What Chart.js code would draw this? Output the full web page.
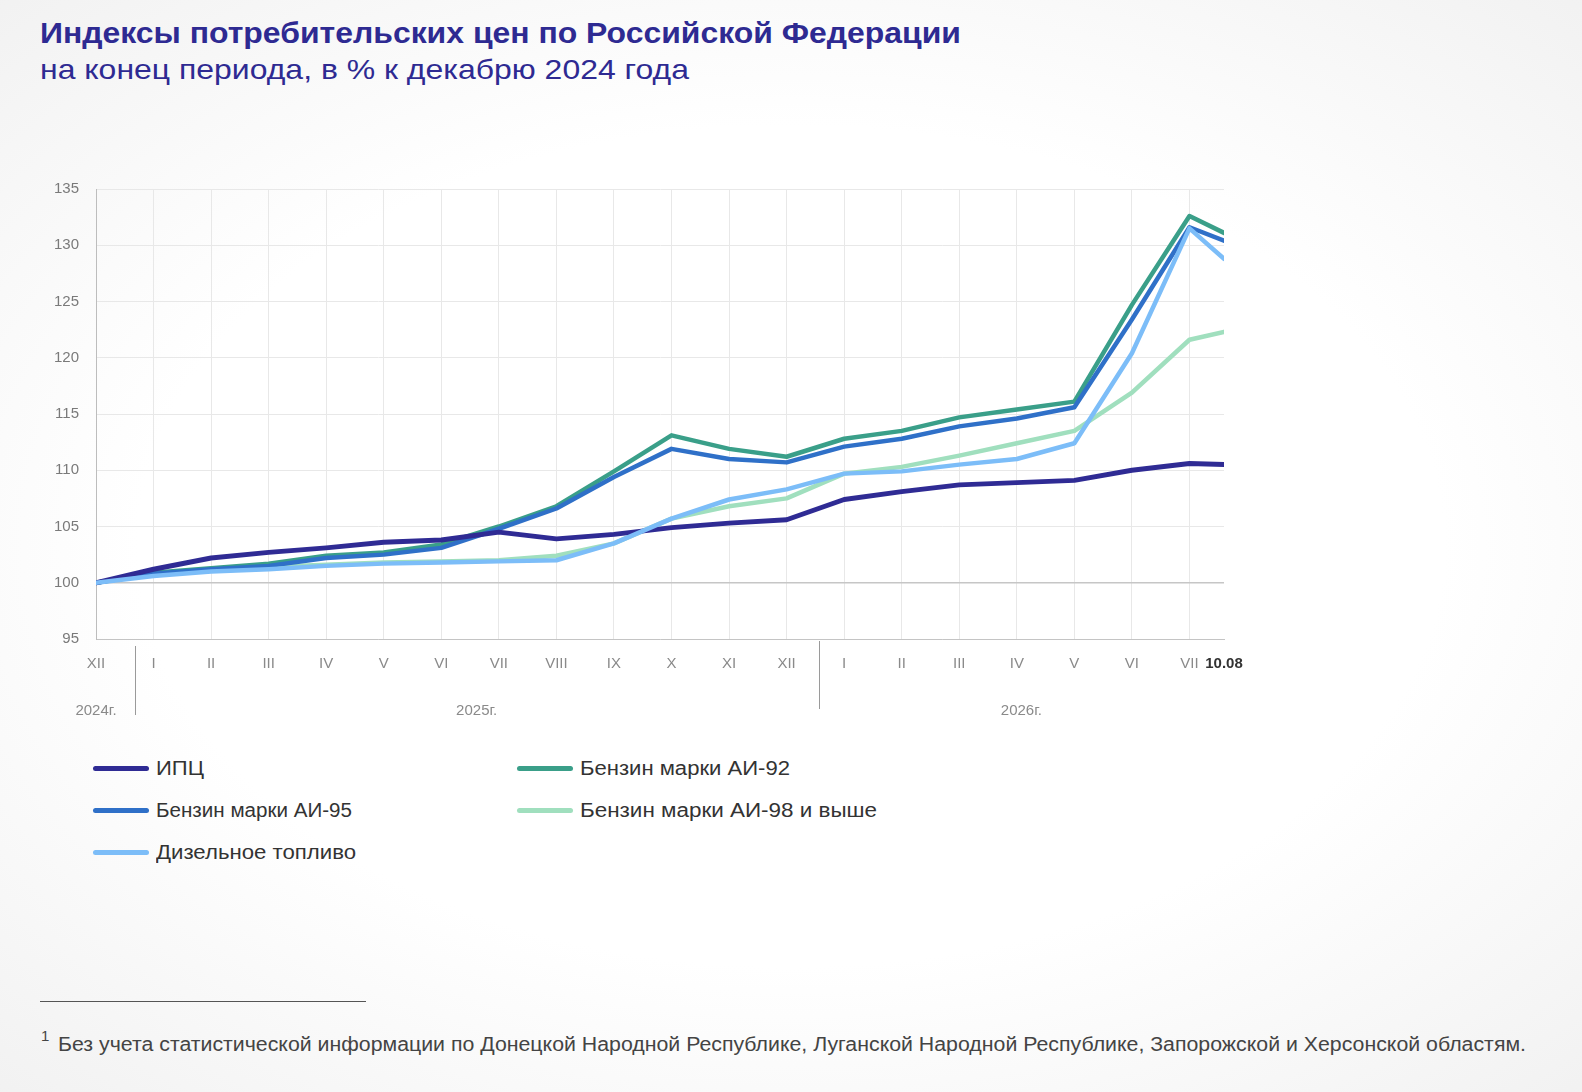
<!DOCTYPE html>
<html lang="ru">
<head>
<meta charset="utf-8">
<script src="https://cdn.jsdelivr.net/npm/chart.js@4.4.1/dist/chart.umd.min.js"></script>
<style>
  html, body { margin: 0; padding: 0; }
  body {
    width: 1582px; height: 1092px; position: relative; overflow: hidden;
    font-family: "Liberation Sans", Arial, sans-serif;
    background: radial-gradient(ellipse 75% 70% at 50% 50%, #ffffff 55%, #f1f1f1 100%);
  }
  .fit { position: absolute; white-space: nowrap; transform-origin: 0 50%; }
  #title { left: 40px; top: 16px; font-size: 30px; font-weight: bold; color: #2e2a92; }
  #subtitle { left: 40px; top: 54px; font-size: 28px; color: #2e2a92; }
  #wrap { position: absolute; left: 40px; top: 163px; width: 1231px; height: 574px; }
  #legend { position: absolute; left: 93px; top: 753px; width: 900px; }
  .item { position: absolute; height: 30px; display: flex; align-items: center; }
  .swatch { width: 56px; height: 5px; border-radius: 3px; margin-right: 7px; }
  .item span { font-size: 20px; color: #333; white-space: nowrap; display: inline-block; transform-origin: 0 50%; }
  #rule { position: absolute; left: 40px; top: 1001px; width: 326px; height: 1px; background: #555; }
  #note { position: absolute; left: 41px; top: 1033px; color: #444; white-space: nowrap; }
  #note sup { font-size: 15px; vertical-align: 0; position: relative; top: -10px; }
  #note span { font-size: 20px; display: inline-block; transform-origin: 0 50%; margin-left: 9px; }
</style>
</head>
<body>
<div id="title" class="fit" data-w="921">Индексы потребительских цен по Российской Федерации</div>
<div id="subtitle" class="fit" data-w="649">на конец периода, в % к декабрю 2024 года</div>
<div id="wrap"><canvas id="chart" width="1231" height="574"></canvas></div>
<div id="legend"></div>
<div id="rule"></div>
<div id="note"><sup>1</sup><span data-w="1468">Без учета статистической информации по Донецкой Народной Республике, Луганской Народной Республике, Запорожской и Херсонской областям.</span></div>
<script>
// x-axis: months from Dec 2024 to Jul 2026, then the 10 August point
const monthLabels = ['XII', 'I', 'II', 'III', 'IV', 'V', 'VI', 'VII', 'VIII', 'IX', 'X', 'XI', 'XII',
                     'I', 'II', 'III', 'IV', 'V', 'VI', 'VII', '10.08'];
const xPos = [0, 1, 2, 3, 4, 5, 6, 7, 8, 9, 10, 11, 12, 13, 14, 15, 16, 17, 18, 19, 19.6];

const years = [
    { label: '2024г.', from: 0, to: 0 },
    { label: '2025г.', from: 1, to: 12 },
    { label: '2026г.', from: 13, to: 20 }
];

const yTicks = [95, 100, 105, 110, 115, 120, 125, 130, 135];

const seriesNames = ['ИПЦ', 'Бензин марки АИ-92', 'Бензин марки АИ-95', 'Бензин марки АИ-98 и выше', 'Дизельное топливо'];

const cpi   = [100, 101.2, 102.2, 102.7, 103.1, 103.6, 103.8, 104.5, 103.9, 104.3, 104.9, 105.3, 105.6,
               107.4, 108.1, 108.7, 108.9, 109.1, 110.0, 110.6, 110.5];
const ai92  = [100, 100.9, 101.3, 101.7, 102.4, 102.7, 103.4, 105.0, 106.8, 109.9, 113.1, 111.9, 111.2,
               112.8, 113.5, 114.7, 115.4, 116.1, 124.7, 132.6, 131.1];
const ai95  = [100, 100.8, 101.2, 101.5, 102.2, 102.5, 103.1, 104.8, 106.6, 109.4, 111.9, 111.0, 110.7,
               112.1, 112.8, 113.9, 114.6, 115.6, 123.4, 131.6, 130.4];
const ai98  = [100, 100.8, 101.2, 101.4, 101.6, 101.8, 101.9, 102.0, 102.4, 103.5, 105.7, 106.8, 107.5,
               109.7, 110.3, 111.3, 112.4, 113.5, 116.9, 121.6, 122.3];
const diesel = [100, 100.6, 101.0, 101.2, 101.5, 101.7, 101.8, 101.9, 102.0, 103.5, 105.7, 107.4, 108.3,
               109.7, 109.9, 110.5, 111.0, 112.4, 120.4, 131.5, 128.8];

const colors = ['#2f2b94', '#3a9f89', '#2f70c8', '#a0dfbe', '#7cbdf8'];
const drawOrder = [2, 4, 3, 5, 1];

const seriesValues = [cpi, ai92, ai95, ai98, diesel];

const tickFont = "'Liberation Sans Narrow', 'Liberation Sans', Arial, sans-serif";

// where the year separators sit between the last month of one year and the first of the next
const sepFrac = [0.67, 0.56];

// year row under the month labels, with separators between years
const yearRow = {
    id: 'yearRow',
    afterDraw(chart) {
        const x = chart.scales.x;
        const area = chart.chartArea;
        const c = chart.ctx;
        const seps = [];
        for (let i = 1; i < years.length; i++) {
            const a = xPos[years[i - 1].to], b = xPos[years[i].from];
            seps.push(a + (b - a) * sepFrac[i - 1]);
        }
        c.save();
        c.strokeStyle = '#9a9a9a';
        c.lineWidth = 1;
        seps.forEach((s, i) => {
            const px = Math.round(x.getPixelForValue(s)) + 0.5;
            c.beginPath();
            c.moveTo(px, area.bottom + (i === 0 ? 7 : 2));
            c.lineTo(px, area.bottom + (i === 0 ? 76 : 70));
            c.stroke();
        });
        c.fillStyle = '#8a8a8a';
        c.font = '15px ' + tickFont;
        c.textAlign = 'center';
        c.textBaseline = 'middle';
        years.forEach((y, i) => {
            let v;
            if (i === 0) v = xPos[y.from];
            else {
                const left = seps[i - 1];
                const right = i < seps.length ? seps[i] : x.max;
                v = (left + right) / 2;
            }
            c.fillText(y.label, x.getPixelForValue(v), area.bottom + 72);
        });
        c.restore();
    }
};

const last = monthLabels.length - 1;

new Chart(document.getElementById('chart'), {
    type: 'line',
    data: {
        datasets: seriesNames.map((name, i) => ({
            label: name,
            data: seriesValues[i].map((v, j) => ({ x: xPos[j], y: v })),
            borderColor: colors[i],
            backgroundColor: colors[i],
            borderWidth: i === 0 ? 5 : 4.5,
            pointRadius: 0,
            tension: 0,
            borderCapStyle: 'round',
            borderJoinStyle: 'round',
            order: drawOrder[i]
        }))
    },
    options: {
        responsive: false,
        animation: false,
        layout: { padding: { top: 0, right: 47, bottom: 0, left: 0 } },
        plugins: {
            legend: { display: false },
            tooltip: { enabled: false }
        },
        scales: {
            x: {
                type: 'linear',
                min: xPos[0],
                max: xPos[last],
                afterBuildTicks: (scale) => {
                    scale.ticks = xPos.map(v => ({ value: v }));
                },
                afterFit: (scale) => { scale.height = 98; },
                border: { color: '#c4c4c4', width: 1 },
                grid: {
                    drawTicks: false,
                    color: (ctx) => ctx.index === last ? 'rgba(0,0,0,0)' : '#e8e8e8'
                },
                ticks: {
                    autoSkip: false,
                    maxRotation: 0,
                    padding: 16,
                    callback: (v, i) => monthLabels[i],
                    color: (ctx) => ctx.index === last ? '#333' : '#8a8a8a',
                    font: (ctx) => ({ family: tickFont, size: 15, weight: ctx.index === last ? 'bold' : 'normal' })
                }
            },
            y: {
                min: 95,
                max: 135,
                afterBuildTicks: (scale) => {
                    scale.ticks = yTicks.map(v => ({ value: v }));
                },
                afterFit: (scale) => { scale.width = 56; },
                border: { color: '#bdbdbd', width: 1 },
                grid: {
                    drawTicks: false,
                    color: (ctx) => ctx.tick && ctx.tick.value === 100 ? '#c6c6c6' : '#e8e8e8',
                    lineWidth: (ctx) => ctx.tick && ctx.tick.value === 100 ? 1.5 : 1
                },
                ticks: {
                    padding: 17,
                    color: '#7a7a7a',
                    font: { family: tickFont, size: 15 }
                }
            }
        }
    },
    plugins: [yearRow]
});

// legend in two columns
const legend = document.getElementById('legend');
const legendSlots = [[0, 0], [424, 0], [0, 42.4], [424, 42.4], [0, 84.8]];
const legendWidths = [48, 210, 196, 297, 200];
seriesNames.forEach((name, i) => {
    const it = document.createElement('div');
    it.className = 'item';
    it.style.left = legendSlots[i][0] + 'px';
    it.style.top = legendSlots[i][1] + 'px';
    it.innerHTML = `<div class="swatch" style="background:${colors[i]}"></div><span data-w="${legendWidths[i]}">${name}</span>`;
    legend.appendChild(it);
});

// squeeze texts horizontally to the widths seen in the picture
document.querySelectorAll('[data-w]').forEach(el => {
    const w = el.getBoundingClientRect().width;
    const target = parseFloat(el.dataset.w);
    if (w > 0) el.style.transform = `scaleX(${target / w})`;
});
</script>
</body>
</html>
